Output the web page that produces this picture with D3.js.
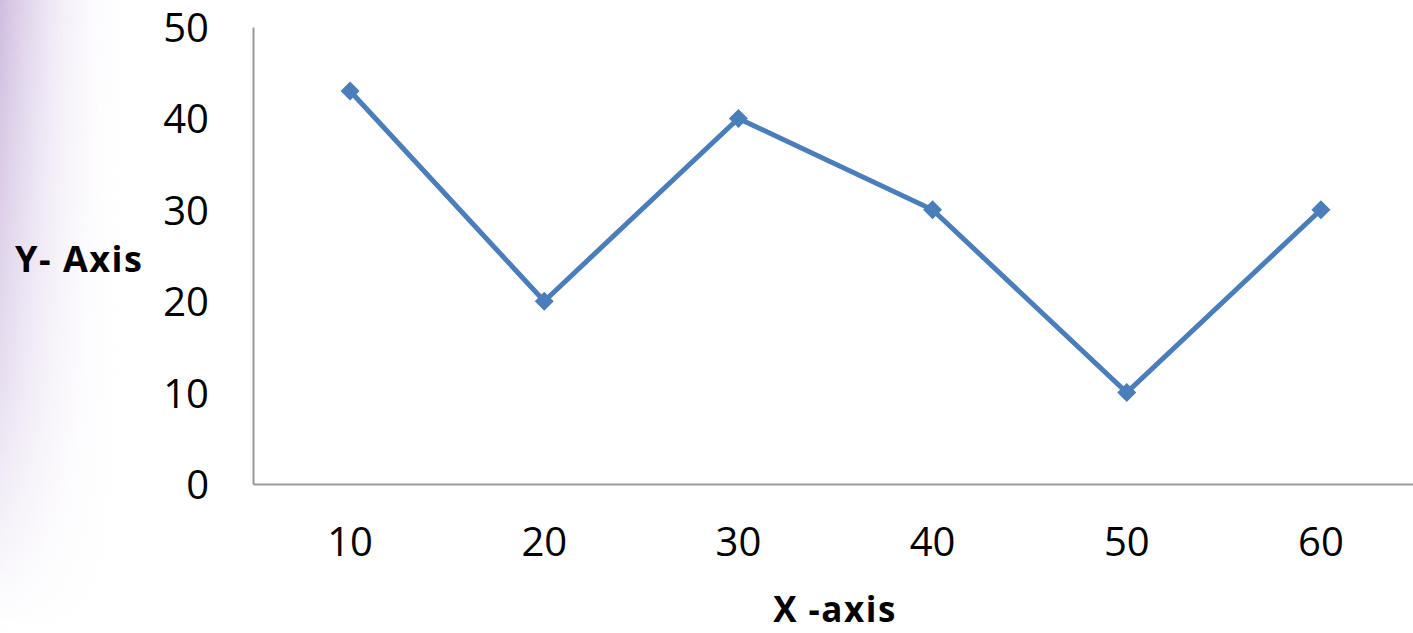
<!DOCTYPE html>
<html>
<head>
<meta charset="utf-8">
<script src="https://cdn.jsdelivr.net/npm/d3@7"></script>
<style>
  body { margin: 0; background: #fff; overflow: hidden; }
  text { font-family: "Open Sans", "Noto Sans", sans-serif; }
</style>
</head>
<body>
<div id="chart"></div>
<script>
// data
var categories = ["10", "20", "30", "40", "50", "60"];
var values = [43, 20, 40, 30, 10, 30];
var yTicks = [0, 10, 20, 30, 40, 50];

var svgWidth = 1413;
var svgHeight = 633;

var margin = {
  top: 27,
  right: -5,
  bottom: 149,
  left: 253
};

var width = svgWidth - margin.left - margin.right;
var height = svgHeight - margin.top - margin.bottom;

var svg = d3.select("#chart")
  .append("svg")
  .attr("width", svgWidth)
  .attr("height", svgHeight)
  .style("display", "block");

// faint purple wash on the left edge
var defs = svg.append("defs");
var grad = defs.append("linearGradient")
  .attr("id", "wash")
  .attr("x1", "0").attr("x2", "1").attr("y1", "0").attr("y2", "0");
grad.append("stop").attr("offset", "0%").attr("stop-color", "#c9b6dc").attr("stop-opacity", 0.9);
grad.append("stop").attr("offset", "45%").attr("stop-color", "#e9e0f1").attr("stop-opacity", 0.6);
grad.append("stop").attr("offset", "100%").attr("stop-color", "#ffffff").attr("stop-opacity", 0);

var fade = defs.append("linearGradient")
  .attr("id", "fade")
  .attr("x1", "0").attr("x2", "0").attr("y1", "0").attr("y2", "1");
fade.append("stop").attr("offset", "0%").attr("stop-color", "#fff").attr("stop-opacity", 1);
fade.append("stop").attr("offset", "60%").attr("stop-color", "#fff").attr("stop-opacity", 0.5);
fade.append("stop").attr("offset", "100%").attr("stop-color", "#fff").attr("stop-opacity", 0);
var mask = defs.append("mask").attr("id", "washMask");
mask.append("rect").attr("width", 130).attr("height", svgHeight).attr("fill", "url(#fade)");

svg.append("rect")
  .attr("width", 130)
  .attr("height", svgHeight)
  .attr("fill", "url(#wash)")
  .attr("mask", "url(#washMask)");

var chartGroup = svg.append("g")
  .attr("transform", `translate(${margin.left}, ${margin.top})`);

var xScale = d3.scaleBand()
  .domain(categories)
  .range([0, width]);

var yScale = d3.scaleLinear()
  .domain([0, 50])
  .range([height, 0]);

var bottomAxis = d3.axisBottom(xScale).tickSize(0).tickPadding(44);
var leftAxis = d3.axisLeft(yScale).tickValues(yTicks).tickSize(0).tickPadding(44);

var xAxisG = chartGroup.append("g")
  .attr("transform", `translate(0, ${height})`)
  .call(bottomAxis);

var yAxisG = chartGroup.append("g")
  .call(leftAxis);

[xAxisG, yAxisG].forEach(function(g) {
  g.select(".domain").attr("stroke", "#999").attr("stroke-width", 2);
  g.selectAll("text")
    .attr("fill", "#000")
    .style("font-size", "40px")
    .style("font-family", "'Open Sans', sans-serif");
});
xAxisG.selectAll("text").attr("dy", "0.71em");
yAxisG.selectAll("text").attr("dy", "0.36em");

var line = d3.line()
  .x((d, i) => xScale(categories[i]) + xScale.bandwidth() / 2)
  .y(d => yScale(d));

chartGroup.append("path")
  .datum(values)
  .attr("fill", "none")
  .attr("stroke", "#4a7ebb")
  .attr("stroke-width", 5)
  .attr("d", line);

chartGroup.selectAll(".marker")
  .data(values)
  .enter()
  .append("path")
  .attr("class", "marker")
  .attr("d", d3.symbol().type(d3.symbolDiamond2).size(230))
  .attr("transform", (d, i) => `translate(${xScale(categories[i]) + xScale.bandwidth() / 2}, ${yScale(d)})`)
  .attr("fill", "#4a7ebb");

// axis titles
svg.append("text")
  .attr("x", 15)
  .attr("y", 259)
  .attr("dy", "0.36em")
  .style("font-size", "36px")
  .style("font-weight", "bold")
  .style("letter-spacing", "1.5px")
  .text("Y- Axis");

svg.append("text")
  .attr("x", 835)
  .attr("y", 609)
  .attr("dy", "0.36em")
  .attr("text-anchor", "middle")
  .style("font-size", "35px")
  .style("font-weight", "bold")
  .style("letter-spacing", "1.5px")
  .text("X -axis");
</script>
</body>
</html>
